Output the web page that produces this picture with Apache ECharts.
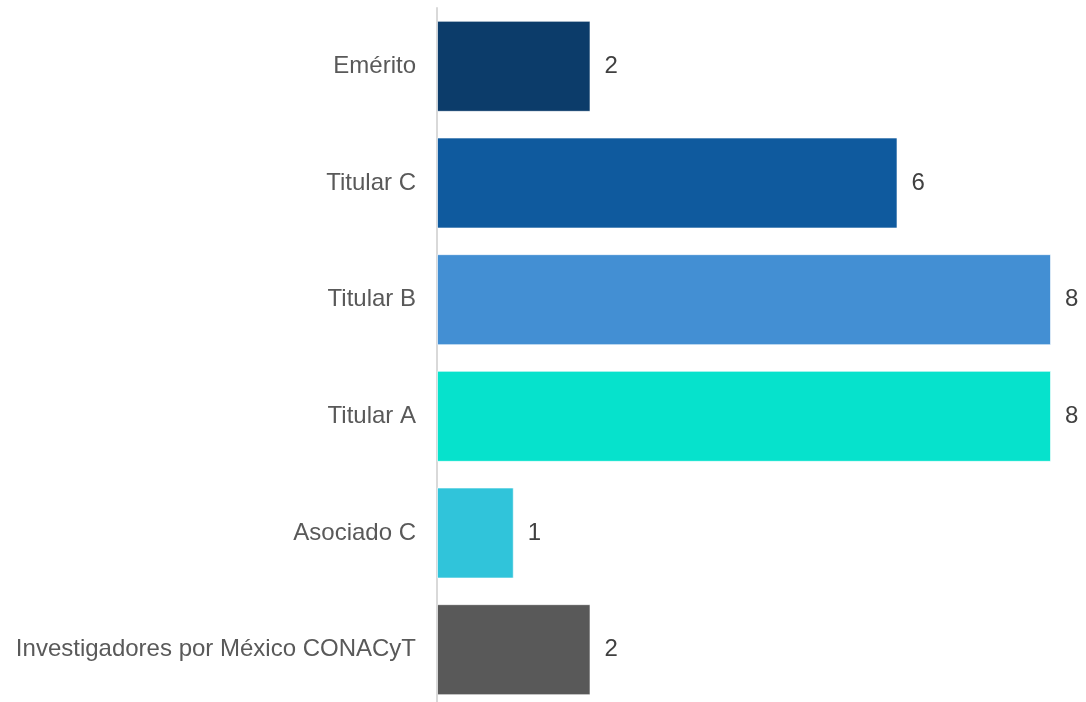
<!DOCTYPE html>
<html>
<head>
<meta charset="utf-8">
<script src="https://cdn.jsdelivr.net/npm/echarts@6/dist/echarts.min.js"></script>
<style>html,body{margin:0;padding:0;background:#fff;overflow:hidden}#c{width:1086px;height:712px}</style>
</head>
<body>
<div id="c"></div>
<script>
const categories = ["Investigadores por México CONACyT", "Asociado C", "Titular A", "Titular B", "Titular C", "Emérito"];
const values = [2, 1, 8, 8, 6, 2];
const colors = ["#595959", "#30c4da", "#06e2cc", "#438fd3", "#0f5a9e", "#0c3c6a"];

const chart = echarts.init(document.getElementById('c'));
chart.setOption({
  animation: false,
  grid: { left: 437, right: 35, top: 8, bottom: 4, containLabel: false },
  xAxis: { type: 'value', min: 0, max: 8, show: false },
  yAxis: {
    type: 'category', data: categories,
    axisLine: { show: true, lineStyle: { color: '#d9d9d9', width: 2 } },
    axisTick: { show: false },
    axisLabel: { color: '#595959', fontSize: 24, fontFamily: 'Liberation Sans, Arial, sans-serif', margin: 21, padding: [5, 0, 0, 0] }
  },
  series: [{
    type: 'bar',
    barCategoryGap: '22%',
    data: values.map((v, i) => ({ value: v, itemStyle: { color: colors[i] } })),
    itemStyle: { borderColor: 'rgba(255,255,255,0.6)', borderWidth: 1 },
    label: { show: true, position: 'right', distance: 14, color: '#404040', fontSize: 24, fontFamily: 'Liberation Sans, Arial, sans-serif', padding: [5, 0, 0, 0] }
  }]
});
</script>
</body>
</html>
